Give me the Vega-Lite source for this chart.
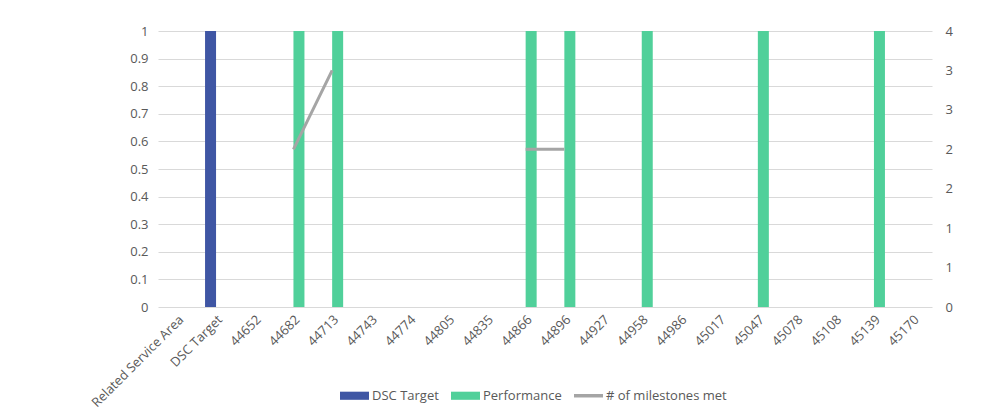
{
  "$schema": "https://vega.github.io/schema/vega-lite/v6.json",
  "autosize": "none",
  "width": 774,
  "height": 276,
  "padding": {"left": 158, "top": 31, "right": 57, "bottom": 113},
  "background": "white",
  "config": {
    "view": {"stroke": null},
    "font": "Open Sans",
    "axis": {"labelColor": "#595959", "labelFontSize": 13, "labelFont": "Open Sans", "ticks": false, "domain": false, "gridColor": "#D9D9D9", "gridWidth": 1, "title": null},
    "legend": {"labelColor": "#595959", "labelFontSize": 13, "labelFont": "Open Sans"}
  },
  "datasets": {
    "bars": [
      {"category": "DSC Target", "series": "DSC Target", "value": 1},
      {"category": "44682", "series": "Performance", "value": 1},
      {"category": "44713", "series": "Performance", "value": 1},
      {"category": "44866", "series": "Performance", "value": 1},
      {"category": "44896", "series": "Performance", "value": 1},
      {"category": "44958", "series": "Performance", "value": 1},
      {"category": "45047", "series": "Performance", "value": 1},
      {"category": "45139", "series": "Performance", "value": 1}
    ],
    "milestones": [
      {"category": "44652", "met": null},
      {"category": "44682", "met": 2},
      {"category": "44713", "met": 3},
      {"category": "44743", "met": null},
      {"category": "44774", "met": null},
      {"category": "44805", "met": null},
      {"category": "44835", "met": null},
      {"category": "44866", "met": 2},
      {"category": "44896", "met": 2},
      {"category": "44927", "met": null},
      {"category": "44958", "met": null},
      {"category": "44986", "met": null},
      {"category": "45017", "met": null},
      {"category": "45047", "met": null},
      {"category": "45078", "met": null},
      {"category": "45108", "met": null},
      {"category": "45139", "met": null},
      {"category": "45170", "met": null}
    ]
  },
  "encoding": {
    "x": {
      "field": "category",
      "type": "nominal",
      "sort": null,
      "scale": {
        "domain": ["Related Service Area", "DSC Target", "44652", "44682", "44713", "44743", "44774", "44805", "44835", "44866", "44896", "44927", "44958", "44986", "45017", "45047", "45078", "45108", "45139", "45170"],
        "paddingInner": 0.4315,
        "paddingOuter": 0.21575
      },
      "axis": {"labelAngle": -45, "labelPadding": 6, "grid": false}
    }
  },
  "layer": [
    {
      "data": {"name": "bars"},
      "mark": {"type": "bar"},
      "encoding": {
        "xOffset": {"field": "series", "type": "nominal", "scale": {"domain": ["DSC Target", "Performance"], "paddingInner": 0, "paddingOuter": 0}},
        "y": {
          "field": "value",
          "type": "quantitative",
          "scale": {"domain": [0, 1], "nice": false},
          "axis": {"values": [0, 0.1, 0.2, 0.3, 0.4, 0.5, 0.6, 0.7, 0.8, 0.9, 1], "format": "~g", "labelPadding": 10, "grid": true}
        },
        "color": {
          "field": "series",
          "type": "nominal",
          "scale": {"domain": ["DSC Target", "Performance", "# of milestones met"], "range": ["#3F56A4", "#50D09A", "#A5A5A5"]},
          "legend": {
            "title": null,
            "orient": "none",
            "direction": "horizontal",
            "legendX": 182,
            "legendY": 350,
            "labelOffset": 3,
            "columnPadding": 12,
            "symbolSize": 841,
            "encode": {
              "symbols": {
                "update": {
                  "shape": [
                    {"test": "datum.value === '# of milestones met'", "value": "M-1,-0.12L1,-0.12L1,0.12L-1,0.12Z"},
                    {"value": "M-1,-0.28L1,-0.28L1,0.28L-1,0.28Z"}
                  ],
                  "fill": {"scale": "color", "field": "value"},
                  "stroke": {"value": "transparent"},
                  "strokeWidth": {"value": 0},
                  "opacity": {"value": 1}
                }
              }
            }
          }
        }
      }
    },
    {
      "data": {"name": "milestones"},
      "mark": {"type": "line", "strokeWidth": 3, "invalid": "break-paths-show-domains"},
      "encoding": {
        "y": {
          "field": "met",
          "type": "quantitative",
          "scale": {"domain": [0, 3.5], "nice": false},
          "axis": {"orient": "right", "values": [0, 0.5, 1, 1.5, 2, 2.5, 3, 3.5], "format": ".0f", "labelPadding": 13, "grid": false}
        },
        "color": {"datum": "# of milestones met"}
      }
    }
  ],
  "resolve": {"scale": {"y": "independent"}}
}
